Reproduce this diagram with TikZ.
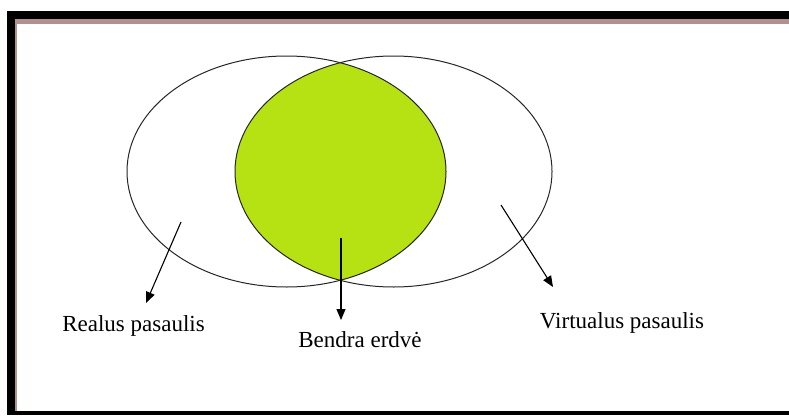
\documentclass[tikz,border=0pt]{standalone}
\usepackage{fontspec}
\setmainfont{Liberation Serif}
\usetikzlibrary{positioning, arrows.meta}

\definecolor{limefill}{RGB}{182,226,20}
\definecolor{frameline}{RGB}{178,144,144}

\tikzset{
    world/.style={draw=black!85, line width=1pt},
    pointer/.style={draw=black, line width=1.1pt, -{Triangle[length=11pt, width=9pt]}},
    worldlabel/.style={font=\fontsize{23}{27}\selectfont, inner sep=0pt, anchor=base}
}

\begin{document}
\begin{tikzpicture}[x=1pt, y=-1pt]
    \useasboundingbox (0,0) rectangle (789,415);

    % frame of the screenshot
    \fill[black] (7,11) rectangle (789,19);
    \fill[black] (7,11) rectangle (15,415);
    \fill[black] (7,411) rectangle (789,415);
    \fill[frameline] (15,19) rectangle (789,24);
    \fill[frameline] (15,19) rectangle (17,411);

    % the two worlds
    \coordinate (realc) at (286.5,171.5);
    \coordinate (virtc) at (393.5,171.5);

    \begin{scope}
        \clip (realc) ellipse [x radius=159.5, y radius=115.5];
        \fill[limefill] (virtc) ellipse [x radius=158.5, y radius=115.5];
    \end{scope}
    \draw[world] (realc) ellipse [x radius=159.5, y radius=115.5];
    \draw[world] (virtc) ellipse [x radius=158.5, y radius=115.5];

    % labels
    \node[worldlabel] (real) at (133.5,331) {Realus pasaulis};
    \node[worldlabel] (common) at (360,347) {Bendra erdvė};
    \node[worldlabel] (virt) at (622,328) {Virtualus pasaulis};

    % arrows
    \coordinate (realfrom) at (181,222);
    \coordinate (realto) at (146,303);
    \coordinate (commonfrom) at (341,238);
    \coordinate (commonto) at (341,320);
    \coordinate (virtfrom) at (501,205);
    \coordinate (virtto) at (553,287);

    \draw[pointer] (realfrom) -- (realto);
    \draw[pointer] (commonfrom) -- (commonto);
    \draw[pointer] (virtfrom) -- (virtto);
\end{tikzpicture}
\end{document}
